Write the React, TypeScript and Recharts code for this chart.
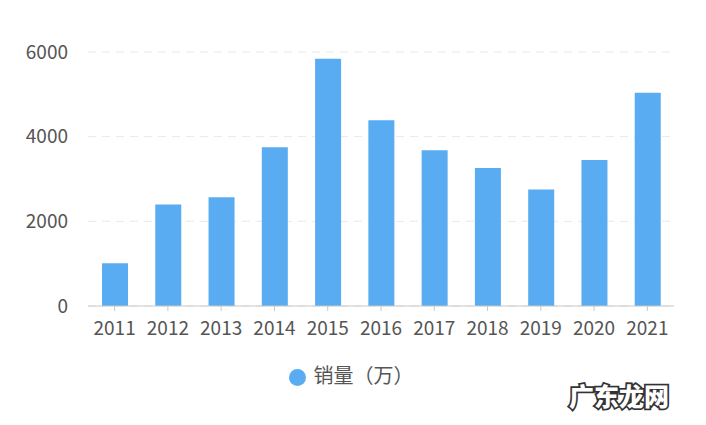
import React from 'react'
import { BarChart, CartesianGrid, XAxis, YAxis, Legend, Bar } from 'recharts'

const years = ['2011', '2012', '2013', '2014', '2015', '2016', '2017', '2018', '2019', '2020', '2021']
const sales = [1010, 2400, 2570, 3750, 5840, 4390, 3680, 3260, 2750, 3450, 5040]
const yTicks = [0, 2000, 4000, 6000]
const seriesName = '销量（万）'

const data = years.map((year, i) => ({ year, sales: sales[i] }))

const font = '"Noto Sans CJK SC", "Noto Sans", sans-serif'
const barColor = '#59acf2'

const App = () => {
  return (
    <div style={{ position: 'absolute', left: 0, top: 0, width: 706, height: 425, background: '#fff', fontFamily: font }}>
      <BarChart width={706} height={425} data={data} margin={{ top: 52, right: 32, left: 0, bottom: 60 }}>
        <CartesianGrid vertical={false} stroke="#e8e8e8" strokeDasharray="8 6" />
        <XAxis
          dataKey="year"
          stroke="#c8c8c8"
          tickSize={5}
          tickMargin={11}
          tick={{ fill: '#555', fontSize: 19, fontFamily: font }}
          height={30}
        />
        <YAxis
          domain={[0, 6000]}
          ticks={yTicks}
          width={88}
          axisLine={false}
          tickLine={false}
          tickMargin={14}
          tick={{ fill: '#555', fontSize: 19, fontFamily: font }}
        />
        <Legend
          verticalAlign="bottom"
          iconType="circle"
          iconSize={17}
          wrapperStyle={{ fontSize: 20, fontFamily: font, bottom: 36, left: 10, width: 692 }}
          formatter={(v: string) => <span style={{ color: '#555', marginLeft: 4 }}>{v}</span>}
        />
        <Bar dataKey="sales" name={seriesName} fill={barColor} barSize={26} isAnimationActive={false} />
        <text
          x={619}
          y={406}
          textAnchor="middle"
          fontSize={25}
          fontWeight={900}
          fontFamily={font}
          fill="#ffffff"
          stroke="#333"
          strokeWidth={3.5}
          paintOrder="stroke"
        >
          广东龙网
        </text>
      </BarChart>
    </div>
  )
}

export default App
